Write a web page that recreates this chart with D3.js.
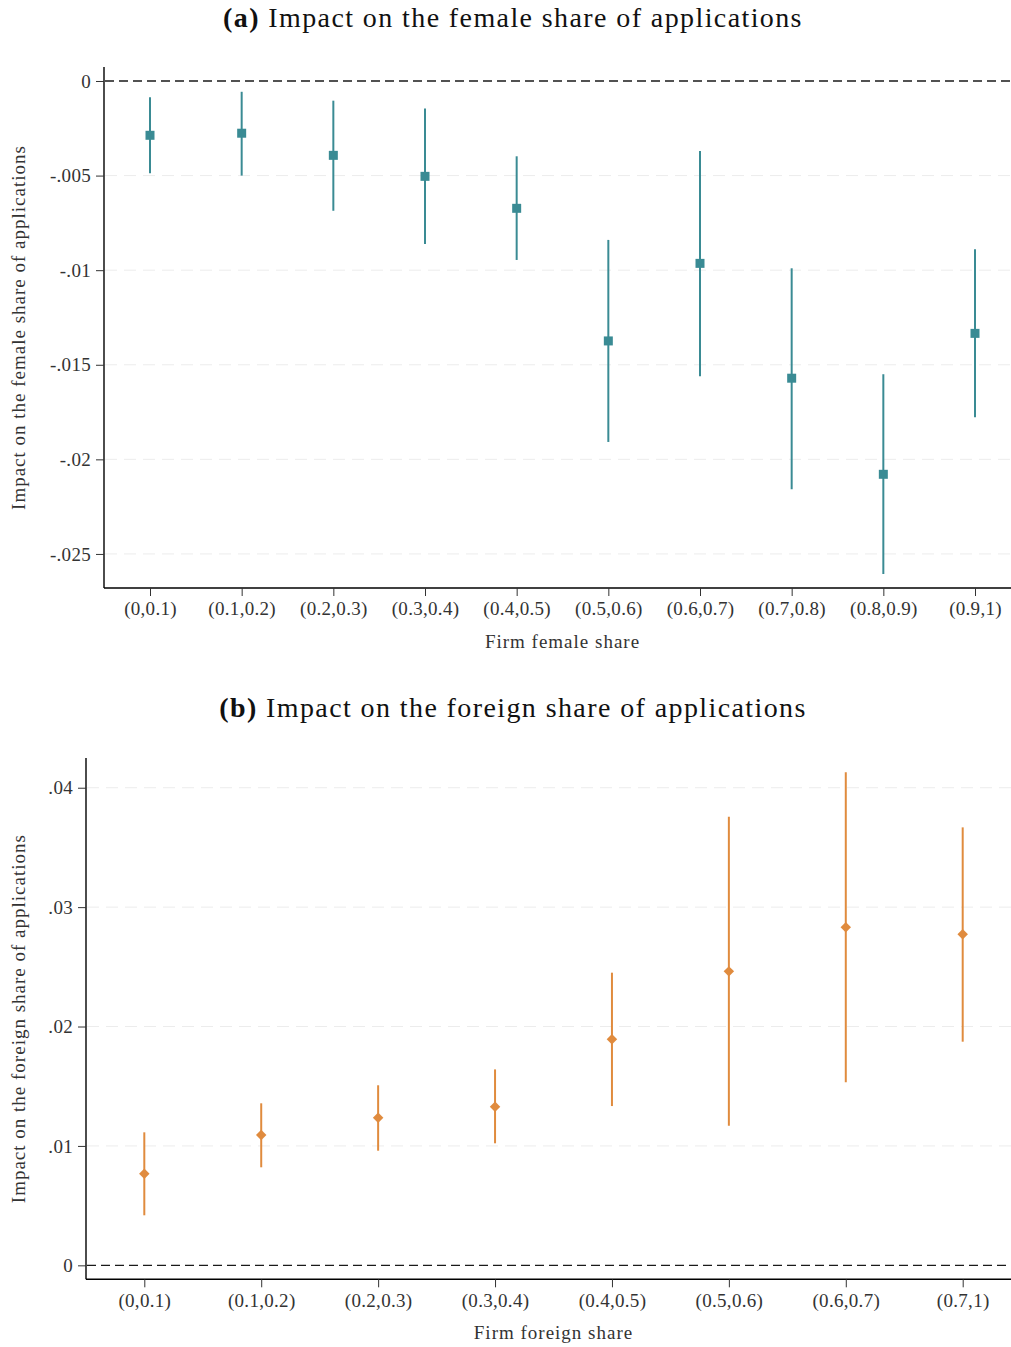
<!DOCTYPE html>
<html>
<head>
<meta charset="utf-8">
<script src="https://cdn.jsdelivr.net/npm/d3@7"></script>
<style>
  body { margin: 0; background: #fff; }
  svg { display: block; font-family: "Liberation Serif", "DejaVu Serif", serif; }
</style>
</head>
<body>
<div id="chart"></div>
<script>
// Chart size
const WIDTH = 1011;
const HEIGHT = 1347;

// Panel (a): female share
const femaleBins = ["(0,0.1)", "(0.1,0.2)", "(0.2,0.3)", "(0.3,0.4)", "(0.4,0.5)",
  "(0.5,0.6)", "(0.6,0.7)", "(0.7,0.8)", "(0.8,0.9)", "(0.9,1)"];
const femaleEst = [-0.00287, -0.00276, -0.00393, -0.00504, -0.00673, -0.01374, -0.00964, -0.01571, -0.02079, -0.01334];
const femaleLo = [-0.00488, -0.00500, -0.00686, -0.00862, -0.00946, -0.01908, -0.01561, -0.02158, -0.02606, -0.01778];
const femaleHi = [-0.00086, -0.00057, -0.00104, -0.00146, -0.00398, -0.00840, -0.00370, -0.00990, -0.01550, -0.00890];
const femaleTicks = [0, -0.005, -0.01, -0.015, -0.02, -0.025];

// Panel (b): foreign share
const foreignBins = ["(0,0.1)", "(0.1,0.2)", "(0.2,0.3)", "(0.3,0.4)", "(0.4,0.5)",
  "(0.5,0.6)", "(0.6,0.7)", "(0.7,1)"];
const foreignEst = [0.00767, 0.01091, 0.01236, 0.01328, 0.01893, 0.02462, 0.02831, 0.02772];
const foreignLo = [0.00419, 0.00821, 0.00960, 0.01022, 0.01334, 0.01169, 0.01533, 0.01873];
const foreignHi = [0.01114, 0.01357, 0.01508, 0.01641, 0.02451, 0.03757, 0.04129, 0.03668];
const foreignTicks = [0, 0.01, 0.02, 0.03, 0.04];

const svg = d3.select("#chart").append("svg")
  .attr("width", WIDTH).attr("height", HEIGHT);

// strip the leading zero like Stata does: -.005, .01 (plain hyphen, not unicode minus)
function fmtTick(d) {
  if (d === 0) return "0";
  return d3.format(".3~f")(d).replace("\u2212", "-").replace("0.", ".");
}

function drawPanel(p) {
  const g = svg.append("g");

  // panel title, "(a)" in bold
  const title = g.append("text")
    .attr("x", p.titleX).attr("y", p.titleY)
    .attr("text-anchor", "middle")
    .style("font-size", "28px")
    .style("letter-spacing", "1.4px")
    .style("fill", "#111");
  title.append("tspan").style("font-weight", "bold").text(p.tag + " ");
  title.append("tspan").text(p.title);

  const x = d3.scalePoint().domain(p.bins).range(p.xRange);
  const y = d3.scaleLinear().domain(p.yDomain).range(p.yRange);

  const left = p.axisX;
  const bottom = p.yRange[0];

  // light dashed gridlines
  g.append("g").selectAll("line")
    .data(p.ticks.filter(d => d !== 0))
    .join("line")
    .attr("x1", left + 1).attr("x2", WIDTH)
    .attr("y1", d => y(d)).attr("y2", d => y(d))
    .attr("stroke", "#ececec").attr("stroke-width", 1)
    .attr("stroke-dasharray", "12,7");

  // zero reference line
  g.append("line")
    .attr("x1", left + 1).attr("x2", WIDTH)
    .attr("y1", y(0)).attr("y2", y(0))
    .attr("stroke", "#1a1a1a").attr("stroke-width", 1.3)
    .attr("stroke-dasharray", "9,5");

  // Y axis
  const yAxis = d3.axisLeft(y).tickValues(p.ticks).tickFormat(fmtTick).tickSize(8).tickPadding(5);
  const ya = g.append("g").attr("transform", `translate(${left},0)`).call(yAxis);
  ya.select(".domain").attr("d", `M0,${p.yRange[1]}V${bottom}`).attr("stroke-width", 1.4);

  // X axis
  const xAxis = d3.axisBottom(x).tickSize(8).tickPadding(6);
  const xa = g.append("g").attr("transform", `translate(0,${bottom})`).call(xAxis);
  xa.select(".domain").attr("d", `M${left},0H${WIDTH}`).attr("stroke-width", 1.4);

  g.selectAll(".tick text").style("font-size", "19px").style("fill", "#333")
    .style("letter-spacing", "0.3px")
    .style("font-family", "'Liberation Serif', serif");
  g.selectAll(".tick line").attr("stroke", "#333");

  // axis titles
  g.append("text")
    .attr("x", (p.xRange[0] + p.xRange[1]) / 2)
    .attr("y", bottom + 60)
    .attr("text-anchor", "middle")
    .style("font-size", "19px").style("fill", "#333")
    .style("letter-spacing", "1px")
    .text(p.xLabel);

  g.append("text")
    .attr("transform", "rotate(-90)")
    .attr("x", -(p.yRange[0] + p.yRange[1]) / 2)
    .attr("y", 25)
    .attr("text-anchor", "middle")
    .style("font-size", "19px").style("fill", "#333")
    .style("letter-spacing", "1px")
    .text(p.yLabel);

  const rows = p.bins.map((b, i) => ({ bin: b, est: p.est[i], lo: p.lo[i], hi: p.hi[i] }));

  // confidence intervals
  g.append("g").selectAll("line")
    .data(rows)
    .join("line")
    .attr("x1", d => x(d.bin)).attr("x2", d => x(d.bin))
    .attr("y1", d => y(d.lo)).attr("y2", d => y(d.hi))
    .attr("stroke", p.color).attr("stroke-width", 2);

  // point estimates
  g.append("g").selectAll("path")
    .data(rows)
    .join("path")
    .attr("transform", d => `translate(${x(d.bin)},${y(d.est)})`)
    .attr("d", d3.symbol().type(p.symbol).size(p.symbolSize))
    .attr("fill", p.color);
}

drawPanel({
  tag: "(a)", title: "Impact on the female share of applications",
  titleX: 513, titleY: 27,
  bins: femaleBins, est: femaleEst, lo: femaleLo, hi: femaleHi, ticks: femaleTicks,
  xRange: [150, 975], yDomain: [-0.0268, 0.00074], yRange: [588, 67], axisX: 104,
  xLabel: "Firm female share", yLabel: "Impact on the female share of applications",
  color: "#3a8b94", symbol: d3.symbolSquare, symbolSize: 81
});

drawPanel({
  tag: "(b)", title: "Impact on the foreign share of applications",
  titleX: 513, titleY: 717,
  bins: foreignBins, est: foreignEst, lo: foreignLo, hi: foreignHi, ticks: foreignTicks,
  xRange: [144.3, 962.7], yDomain: [-0.00117, 0.04249], yRange: [1279.3, 758], axisX: 86,
  xLabel: "Firm foreign share", yLabel: "Impact on the foreign share of applications",
  color: "#e08b3e", symbol: d3.symbolDiamond2, symbolSize: 70
});
</script>
</body>
</html>
